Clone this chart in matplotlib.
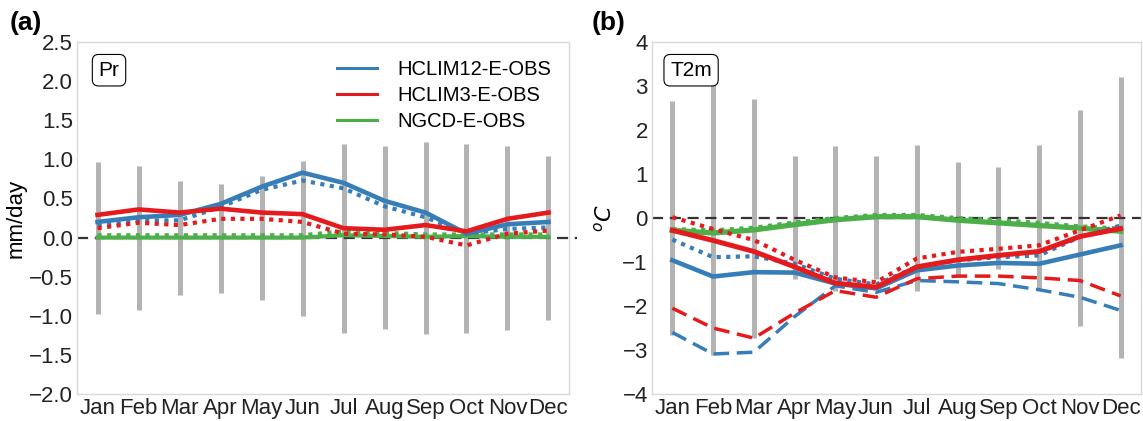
import matplotlib
matplotlib.use("Agg")
import matplotlib.pyplot as plt
from matplotlib.lines import Line2D
import numpy as np

plt.rcParams['font.family'] = ['Liberation Sans', 'DejaVu Sans']

months = ['Jan', 'Feb', 'Mar', 'Apr', 'May', 'Jun', 'Jul', 'Aug', 'Sep', 'Oct', 'Nov', 'Dec']

# (a) precipitation bias, mm/day
pr_bar_hi = [0.97, 0.91, 0.72, 0.69, 0.79, 0.98, 1.20, 1.17, 1.22, 1.20, 1.17, 1.04]
pr_bar_lo = [-0.98, -0.92, -0.73, -0.71, -0.80, -1.00, -1.22, -1.17, -1.23, -1.22, -1.18, -1.06]
pr_h12 = [0.20, 0.26, 0.29, 0.43, 0.65, 0.83, 0.70, 0.47, 0.32, 0.05, 0.17, 0.20]
pr_h12_dot = [0.16, 0.22, 0.22, 0.39, 0.61, 0.73, 0.63, 0.40, 0.26, 0.05, 0.11, 0.13]
pr_h3 = [0.29, 0.36, 0.32, 0.37, 0.32, 0.30, 0.12, 0.10, 0.16, 0.08, 0.24, 0.32]
pr_h3_dot = [0.12, 0.19, 0.16, 0.24, 0.24, 0.20, 0.05, 0.04, 0.01, -0.10, 0.05, 0.09]
pr_ngcd = [0.0, 0.0, 0.0, 0.0, 0.0, 0.0, 0.03, 0.02, 0.01, 0.02, 0.01, 0.01]
pr_ngcd_dot = [0.03, 0.03, 0.03, 0.03, 0.03, 0.03, 0.08, 0.06, 0.04, 0.04, 0.04, 0.04]

# (b) 2 m temperature bias, degC
t_bar_hi = [2.67, 3.10, 2.70, 1.40, 1.64, 1.40, 1.67, 1.28, 1.15, 1.65, 2.46, 3.20]
t_bar_lo = [-2.65, -3.12, -2.73, -1.39, -1.65, -1.39, -1.65, -1.33, -1.15, -1.63, -2.45, -3.18]
t_h12 = [-0.96, -1.33, -1.23, -1.24, -1.49, -1.60, -1.19, -1.08, -1.02, -1.04, -0.83, -0.62]
t_h12_dot = [-0.49, -0.89, -0.87, -1.04, -1.38, -1.51, -1.11, -0.96, -0.89, -0.85, -0.43, -0.17]
t_h12_dash = [-2.60, -3.09, -3.05, -2.24, -1.54, -1.69, -1.42, -1.45, -1.49, -1.63, -1.80, -2.10]
t_h3 = [-0.28, -0.51, -0.76, -1.11, -1.48, -1.57, -1.11, -0.95, -0.85, -0.76, -0.42, -0.24]
t_h3_dot = [0.02, -0.25, -0.50, -0.95, -1.35, -1.46, -0.92, -0.77, -0.70, -0.62, -0.28, 0.06]
t_h3_dash = [-2.05, -2.50, -2.73, -2.16, -1.65, -1.80, -1.38, -1.32, -1.32, -1.36, -1.42, -1.77]
t_ngcd = [-0.28, -0.34, -0.27, -0.15, -0.04, 0.03, 0.03, -0.05, -0.11, -0.17, -0.23, -0.30]
t_ngcd_dot = [-0.25, -0.28, -0.22, -0.10, 0.00, 0.07, 0.07, 0.00, -0.05, -0.11, -0.19, -0.24]

blue = '#377eb8'
red = '#e41a1c'
green = '#4daf4a'
grey = '#b3b3b3'

fig = plt.figure(figsize=(11.43, 4.21), dpi=100)
ax1 = fig.add_axes([0.0674, 0.0641, 0.4304, 0.836])
ax2 = fig.add_axes([0.5704, 0.0641, 0.4278, 0.836])

x = np.arange(12)
lw = 3.0
dot = (0, (1, 1.3))
dash = (0, (4.5, 2.2))


def style(ax):
    for s in ax.spines.values():
        s.set_color('#d9d9d9')
        s.set_linewidth(1.0)
    ax.tick_params(length=0, labelsize=16, pad=3, colors='#222222')
    ax.set_xticks(x)
    ax.set_xticklabels(months)
    ax.set_xlim(-0.5, 11.5)


# panel a
ax1.vlines(x, pr_bar_lo, pr_bar_hi, color=grey, lw=3.6, zorder=1)
ax1.plot([-0.5, 11.7], [0, 0], color='#333333', ls=(0, (5, 3)), lw=1.6, zorder=2, clip_on=False)
ax1.plot(x, pr_ngcd, color=green, lw=lw, zorder=3)
ax1.plot(x, pr_ngcd_dot, color=green, lw=lw, ls=dot, zorder=3)
ax1.plot(x, pr_h12, color=blue, lw=lw + 0.3, zorder=4)
ax1.plot(x, pr_h12_dot, color=blue, lw=lw, ls=dot, zorder=4)
ax1.plot(x, pr_h3, color=red, lw=lw + 0.3, zorder=4)
ax1.plot(x, pr_h3_dot, color=red, lw=lw, ls=dot, zorder=4)
ax1.set_ylim(-2.0, 2.5)
ax1.set_yticks(np.arange(-2.0, 2.51, 0.5))
ax1.set_yticklabels(['{:.1f}'.format(v).replace('-', '\u2212') for v in np.arange(-2.0, 2.51, 0.5)])
ax1.set_ylabel('mm/day', fontsize=16, labelpad=2)
style(ax1)
ax1.text(0.065, 0.92, 'Pr', transform=ax1.transAxes, fontsize=15, ha='center', va='center',
         bbox=dict(boxstyle='round,pad=0.3', fc='white', ec='black', lw=0.8))
handles = [Line2D([], [], color=blue, lw=2.2), Line2D([], [], color=red, lw=2.2),
           Line2D([], [], color=green, lw=2.2)]
ax1.legend(handles, ['HCLIM12-E-OBS', 'HCLIM3-E-OBS', 'NGCD-E-OBS'], loc='upper right',
           frameon=False, fontsize=14.5, handlelength=2.0, handletextpad=1.0,
           labelspacing=0.35, bbox_to_anchor=(1.0, 1.0))

# panel b
ax2.vlines(x, t_bar_lo, t_bar_hi, color=grey, lw=3.6, zorder=1)
ax2.plot([-0.5, 11.5], [0, 0], color='#333333', ls=(0, (5, 3)), lw=1.6, zorder=2, clip_on=False)
ax2.plot(x, t_ngcd, color=green, lw=lw + 0.8, zorder=3)
ax2.plot(x, t_ngcd_dot, color=green, lw=lw, ls=dot, zorder=3)
ax2.plot(x, t_h12, color=blue, lw=lw + 0.3, zorder=4)
ax2.plot(x, t_h12_dot, color=blue, lw=lw, ls=dot, zorder=4)
ax2.plot(x, t_h12_dash, color=blue, lw=lw - 0.5, ls=dash, zorder=4)
ax2.plot(x, t_h3, color=red, lw=lw + 0.6, zorder=4)
ax2.plot(x, t_h3_dot, color=red, lw=lw, ls=dot, zorder=4)
ax2.plot(x, t_h3_dash, color=red, lw=lw - 0.5, ls=dash, zorder=4)
ax2.set_ylim(-4, 4)
ax2.set_yticks(np.arange(-4, 5, 1))
ax2.set_yticklabels([str(v).replace('-', '\u2212') for v in range(-4, 5)])
ax2.set_ylabel('$^oC$', fontsize=16, labelpad=4)
style(ax2)
ax2.text(0.08, 0.92, 'T2m', transform=ax2.transAxes, fontsize=15, ha='center', va='center',
         bbox=dict(boxstyle='round,pad=0.3', fc='white', ec='black', lw=0.8))

fig.text(0.008, 0.945, '(a)', fontsize=19, fontweight='bold', va='center')
fig.text(0.518, 0.945, '(b)', fontsize=19, fontweight='bold', va='center')

fig.savefig('out.png', dpi=100)
